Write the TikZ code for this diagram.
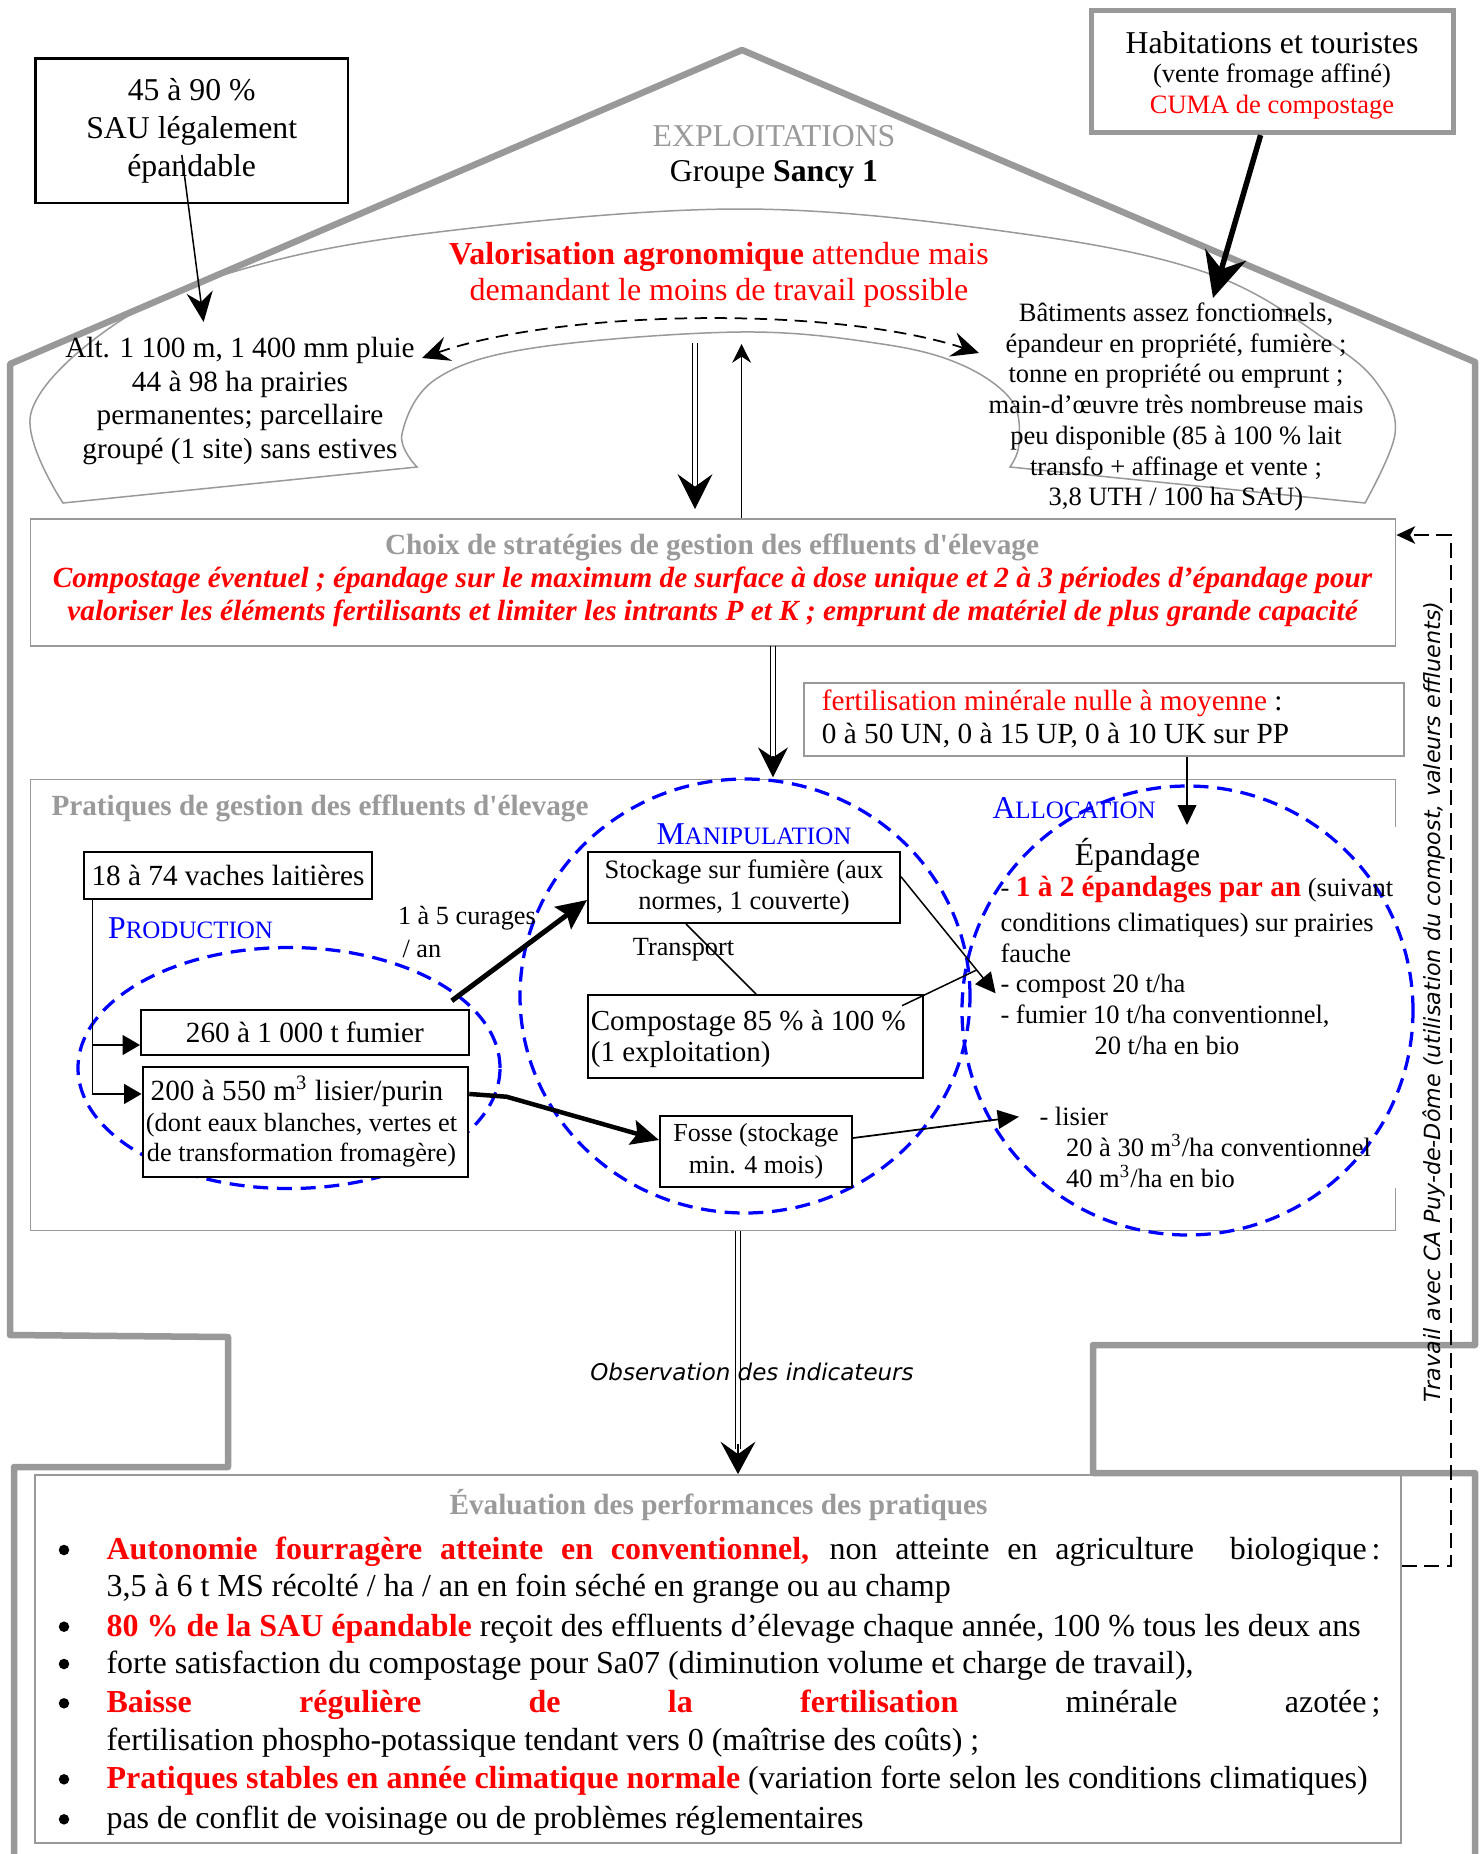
\documentclass[tikz,border=0pt]{standalone}
\usepackage{fontspec}
\setmainfont{Liberation Serif}[Ligatures=TeXOff]
\newfontfamily\comicfont{DejaVu Sans}
\usetikzlibrary{arrows.meta,calc,shapes.geometric}
\definecolor{hgray}{HTML}{999999}
\definecolor{tgray}{HTML}{9A9A9A}
\definecolor{dred}{HTML}{FF0000}
\definecolor{dblue}{HTML}{0000FF}
\newcommand{\fs}[2]{\fontsize{#1}{#2}\selectfont}
\newcommand{\fakesc}[2]{#1{\fontsize{10}{12}\selectfont #2}}
\begin{document}
\begin{tikzpicture}[x=0.4pt,y=-0.4pt,
  txt/.style={inner sep=0pt,align=center},
  bbox/.style={draw=black,line width=0.8pt,fill=white,inner sep=0pt,align=center},
  gbox/.style={draw=hgray,line width=0.7pt,inner sep=0pt},
  house/.style={draw=hgray,line width=2.6pt,line join=round},
  cloud/.style={draw=hgray,line width=0.6pt},
  bell/.style={draw=dblue,line width=1.3pt,dash pattern=on 6pt off 3.5pt,ellipse,inner sep=0pt},
  thinl/.style={line width=0.6pt},
  dblline/.style={line width=0.55pt},
  bdot/.style={circle,fill=black,inner sep=0pt,minimum size=4.2pt},
]
\useasboundingbox (0,0) rectangle (1482,1854);
\fill[white] (0,0) rectangle (1482,1854);

% house outline
\draw[house] (14,1860) -- (14,1467) -- (228,1467) -- (228,1337) -- (10,1335) -- (10,364) -- (742,50) -- (1475,362) -- (1475,1345) -- (1093,1345) -- (1093,1473) -- (1475,1473) -- (1475,1860);

% cloud shape
\draw[cloud] plot[smooth,tension=0.6] coordinates {(417,467) (402,434) (436,379) (533,348) (740,332) (882,344) (962,365) (1012,401) (1019,444) (1010,467)}
  -- plot[smooth,tension=0.6] coordinates {(1365,503) (1395,434) (1379,386) (1332,344) (1213,275) (1024,234) (740,209) (422,234) (233,272) (111,327) (31,413) (63,503)} -- cycle;

% top boxes and texts
\node[bbox,line width=1.1pt,minimum width=125pt,minimum height=57.8pt,font=\fs{12.7}{15.3}] (box45) at (191.7,130.75) {45 à 90 \%\\SAU légalement\\épandable};
\node[draw=hgray,line width=2pt,fill=white,minimum width=145pt,minimum height=48.9pt,inner sep=0pt] (habit) at (1272.4,71.5) {};
\node[txt,font=\fs{12.7}{15}] (habit1) at (1272,43) {Habitations et touristes};
\node[txt,font=\fs{10.6}{12.5}] (habit2) at (1272,76) {(vente fromage affiné)};
\node[txt,font=\fs{10.6}{12.5},text=dred] (habit3) at (1272,107) {CUMA de compostage};

\node[txt,font=\fs{12.7}{15},text=tgray] (explo) at (774,136) {EXPLOITATIONS};
\node[txt,font=\fs{12.7}{15}] (groupe) at (774,174) {Groupe \textbf{Sancy 1}};
\node[txt,font=\fs{12.8}{14.4},text=dred] (valo) at (719,274.6) {\textbf{Valorisation agronomique} attendue mais\\demandant le moins de travail possible};
\node[txt,font=\fs{11.7}{13.4}] (alt) at (240,401) {Alt. 1 100 m, 1 400 mm pluie\\44 à 98 ha prairies\\permanentes; parcellaire\\groupé (1 site) sans estives};
\node[txt,font=\fs{10.6}{12.3}] (bat) at (1176,407) {Bâtiments assez fonctionnels,\\épandeur en propriété, fumière ;\\tonne en propriété ou emprunt ;\\main-d’œuvre très nombreuse mais\\peu disponible (85 à 100 \% lait\\transfo + affinage et vente ;\\3,8 UTH / 100 ha SAU)};

% top arrows
\coordinate (a45s) at (181.8,155);
\coordinate (a45e) at (203.6,322);
\draw[thinl,-{Stealth[length=12pt,width=10.5pt,inset=4pt]}] (a45s) -- (a45e);
\coordinate (habe) at (1213,298);
\draw[line width=2.2pt,-{Stealth[length=18pt,width=17pt,inset=6pt]}] ($(habit.south)+(-11.8,0)$) -- (habe);
\coordinate (dl) at (422,358);
\coordinate (dr) at (979,353);
\draw[line width=0.7pt,dash pattern=on 5pt off 3pt,{Stealth[length=11pt,width=10pt,inset=4pt]}-{Stealth[length=11pt,width=10pt,inset=4pt]}] (dl) .. controls (560,310) and (830,305) .. (dr);

% choix box
\node[gbox,minimum width=546pt,minimum height=50.8pt] (choix) at (713,582.5) {};
\node[txt,font=\bfseries\fs{11.7}{13.4},text=tgray] (choixT) at (712,547) {Choix de stratégies de gestion des effluents d'élevage};
\node[txt,font=\bfseries\itshape\fs{11.7}{13.4},text=dred] (choixR) at (712.5,597) {Compostage éventuel ; épandage sur le maximum de surface à dose unique et 2 à 3 périodes d’épandage pour\\valoriser les éléments fertilisants et limiter les intrants P et K ; emprunt de matériel de plus grande capacité};

% valo -> choix double arrow and up arrow
\coordinate (v1) at (695,343);
\draw[dblline] ($(v1)+(-2.7,0)$) -- ($(choix.north -| v1)+(-2.7,-25)$);
\draw[dblline] ($(v1)+(2.7,0)$) -- ($(choix.north -| v1)+(2.7,-25)$);
\draw[dblline,-{Stealth[length=14pt,width=14pt,inset=5pt]}] ($(choix.north -| v1)+(0,-30)$) -- ($(choix.north -| v1)+(0,-9)$);
\coordinate (u1) at (741.6,344);
\draw[thinl,-{Stealth[length=7.5pt,width=7.5pt,inset=2.5pt]}] (choix.north -| u1) -- (u1);

% fertilisation box
\node[gbox,fill=white,minimum width=240pt,minimum height=29.2pt] (fert) at (1104,719.5) {};
\node[txt,align=left,anchor=west,font=\fs{11.7}{12.9}] (fertT) at (821.4,719) {\textcolor{dred}{fertilisation minérale nulle à moyenne} :\\0 à 50 UN, 0 à 15 UP, 0 à 10 UK sur PP};

% pratiques box
\node[inner sep=0pt,minimum width=546pt,minimum height=180.8pt] (prat) at (713,1005) {};
\draw[draw=hgray,line width=0.7pt] (1395.5,827) -- (1395.5,779.5) -- (30.5,779.5) -- (30.5,1230.5) -- (1395.5,1230.5) -- (1395.5,1188);
\node[txt,anchor=west,font=\bfseries\fs{11.7}{13.4},text=tgray] (pratT) at (51,808.3) {Pratiques de gestion des effluents d'élevage};

% choix -> manipulation double arrow
\coordinate (c1) at (773,646);
\draw[dblline] ($(c1)+(-2.4,0)$) -- ($(c1)+(-2.4,115)$);
\draw[dblline] ($(c1)+(2.4,0)$) -- ($(c1)+(2.4,115)$);

% ellipses
\node[bell,minimum width=168.8pt,minimum height=96.4pt] (prodE) at (289,1068) {};
\node[bell,minimum width=180pt,minimum height=173.6pt] (manipE) at (745,996) {};
\node[bell,minimum width=180.4pt,minimum height=179.6pt] (allocE) at (1187.5,1010.5) {};
\draw[dblline,-{Stealth[length=12pt,width=12pt,inset=4pt]}] ($(c1)+(0,110)$) -- (manipE.north -| c1);

\node[txt,anchor=west,text=dblue,font=\fs{12.7}{15}] (prodL) at (107.6,928) {\fakesc{P}{RODUCTION}};
\node[txt,anchor=west,text=dblue,font=\fs{12.7}{15}] (manipL) at (656,834) {\fakesc{M}{ANIPULATION}};
\node[txt,anchor=west,text=dblue,font=\fs{12.7}{15}] (allocL) at (992,808) {\fakesc{A}{LLOCATION}};

% boxes in pratiques
\node[bbox,minimum width=115.2pt,minimum height=18.8pt,font=\fs{11.7}{13.4}] (vaches) at (228,875.5) {18 à 74 vaches laitières};
\node[bbox,minimum width=131.1pt,minimum height=18.1pt,font=\fs{11.7}{13.4}] (fumier) at (304.9,1032.7) {260 à 1 000 t fumier};
\node[bbox,minimum width=130.3pt,minimum height=43.8pt] (lisier) at (305.4,1122) {};
\node[txt,font=\fs{11.7}{13.4}] (lisierA) at (297,1091.7) {200 à 550 m\textsuperscript{3} lisier/purin};
\node[txt,font=\fs{10.5}{12}] (lisierB) at (301.5,1140) {(dont eaux blanches, vertes et\\de transformation fromagère)};
\node[bbox,minimum width=124.8pt,minimum height=28.4pt,font=\fs{10.6}{12.6}] (stock) at (744,887.5) {Stockage sur fumière (aux\\normes, 1 couverte)};
\node[bbox,minimum width=134pt,minimum height=33.2pt] (compo) at (755.5,1036.5) {};
\node[txt,anchor=west,align=left,font=\fs{11.6}{12.7}] (compoT) at (590.4,1039) {Compostage 85 \% à 100 \%\\(1 exploitation)};
\node[bbox,minimum width=76.8pt,minimum height=28.4pt,font=\fs{10.4}{12.7}] (fosse) at (756,1151.5) {Fosse (stockage\\min. 4 mois)};

\node[txt,anchor=west,align=left,font=\fs{10.5}{12.9}] (cur) at (397.5,932) {1 à 5 curages\\\hspace*{1.8pt}/ an};
\node[txt,font=\fs{10.5}{12}] (transp) at (683.5,950) {Transport};

% epandage texts
\node[txt,font=\fs{12.7}{15}] (epT) at (1137.5,855) {Épandage};
\node[txt,anchor=west,font=\fs{10.6}{12.3}] (ep1) at (1000,890) {- \textcolor{dred}{\bfseries\fs{11.7}{13}1 à 2 épandages par an} (suivant};
\node[txt,anchor=west,align=left,font=\fs{10.6}{12.3}] (ep2) at (1000,983.7) {conditions climatiques) sur prairies\\fauche\\- compost 20 t/ha\\- fumier 10 t/ha conventionnel,\\\hspace*{37.6pt}20 t/ha en bio};
\node[txt,anchor=west,align=left,font=\fs{10.6}{12.3}] (ep3) at (1039,1147.5) {- lisier\\\hspace*{10.6pt}20 à 30 m\textsuperscript{3}/ha conventionnel\\\hspace*{10.6pt}40 m\textsuperscript{3}/ha en bio};

% arrows in pratiques
\coordinate (vs) at ($(vaches.south west)+(9.6,0)$);
\draw[thinl,-{Triangle[length=7pt,width=8pt]}] (vs) |- ($(fumier.west)+(0,12.3)$);
\draw[thinl,-{Triangle[length=7pt,width=8pt]}] (vs) |- ($(lisier.north west)+(0,27.7)$);
\draw[line width=2pt,-{Stealth[length=12pt,width=11pt,inset=2pt]}] ($(fumier.north east)+(-18,-8.3)$) -- ($(stock.west)+(0,12.5)$);
\draw[line width=1.8pt,-{Stealth[length=11pt,width=10pt,inset=2pt]}] ($(lisier.north east)+(0,27.7)$) -- (506.5,1096.7) -- ($(fosse.west)+(0,-11.5)$);
\coordinate (compt) at (995.6,993.3);
\draw[thinl,-{Triangle[length=8pt,width=8pt]}] ($(stock.east)+(0,-10.8)$) -- (compt);
\coordinate (cj) at (976.6,970);
\draw[thinl] ($(compo.north east)+(-22,11.7)$) -- (cj);
\draw[thinl] ($(stock.south)+(-58,0)$) -- ($(compo.north)+(0.5,0)$);
\coordinate (lisp) at (1019,1116.7);
\draw[line width=0.7pt,-{Triangle[length=8.5pt,width=7.5pt]}] ($(fosse.east)+(0,-13.5)$) -- (lisp);
\coordinate (fa) at (1187,825);
\draw[thinl,-{Triangle[length=8pt,width=7.5pt]}] ($(fert.south)+(83,0)$) -- (fa);

% evaluation box
\node[gbox,minimum width=546.4pt,minimum height=147.2pt] (eval) at (718,1659) {};
\node[txt,font=\bfseries\fs{11.7}{13.4},text=tgray] (evalT) at (718.5,1505) {Évaluation des performances des pratiques};

% prat -> eval double arrow
\coordinate (p1) at (738,1231);
\draw[dblline] ($(p1)+(-2.5,0)$) -- ($(eval.north -| p1)+(-2.5,-25)$);
\draw[dblline] ($(p1)+(2.5,0)$) -- ($(eval.north -| p1)+(2.5,-25)$);
\draw[dblline,-{Stealth[length=13pt,width=14pt,inset=5pt]}] ($(eval.north -| p1)+(0,-30)$) -- (eval.north -| p1);
\node[txt,font=\comicfont\itshape\fs{9.2}{11}] (obs) at (752,1371.7) {Observation des indicateurs};

% feedback dashed
\coordinate (fbc) at (1451,535);
\draw[line width=0.8pt,dash pattern=on 6pt off 3pt,-{Stealth[length=7.5pt,width=7pt,inset=2pt]}] ($(eval.east)+(0,-93)$) -| (fbc) -- ($(choix.east)+(0,-47.5)$);
\node[txt,rotate=90,font=\comicfont\itshape\fs{8.9}{10}] (travail) at (1434,1002) {Travail avec CA Puy-de-Dôme (utilisation du compost, valeurs effluents)};

% bullets
\tikzset{bt/.style={inner sep=0pt,anchor=base west,font=\fs{12.8}{15}}}
\node[bdot] (d1) at (64,1550) {};
\node[bt] (l1) at (106,1559.5) {\makebox[509.6pt][s]{\textcolor{dred}{\bfseries Autonomie fourragère atteinte en conventionnel,} non atteinte en agriculture \ biologique\kern2pt:}};
\node[bt] (l2) at (106,1596.2) {3,5 à 6 t MS récolté / ha / an en foin séché en grange ou au champ};
\node[bdot] (d3) at (64,1626.7) {};
\node[bt] (l3) at (106,1636.2) {\textcolor{dred}{\bfseries 80 \% de la SAU épandable} reçoit des effluents d’élevage chaque année, 100 \% tous les deux ans};
\node[bdot] (d4) at (64,1664) {};
\node[bt] (l4) at (106,1673.5) {forte satisfaction du compostage pour Sa07 (diminution volume et charge de travail),};
\node[bdot] (d5) at (64,1703.3) {};
\node[bt] (l5) at (106,1712.8) {\makebox[509.6pt][s]{\textcolor{dred}{\bfseries Baisse régulière de la fertilisation} minérale azotée\kern2pt;}};
\node[bt] (l6) at (106,1750.5) {fertilisation phospho-potassique tendant vers 0 (maîtrise des coûts) ;};
\node[bdot] (d7) at (64,1779.3) {};
\node[bt] (l7) at (106,1788.8) {\textcolor{dred}{\bfseries Pratiques stables en année climatique normale} (variation forte selon les conditions climatiques)};
\node[bdot] (d8) at (64,1819.3) {};
\node[bt] (l8) at (106,1828.8) {pas de conflit de voisinage ou de problèmes réglementaires};
\end{tikzpicture}
\end{document}
